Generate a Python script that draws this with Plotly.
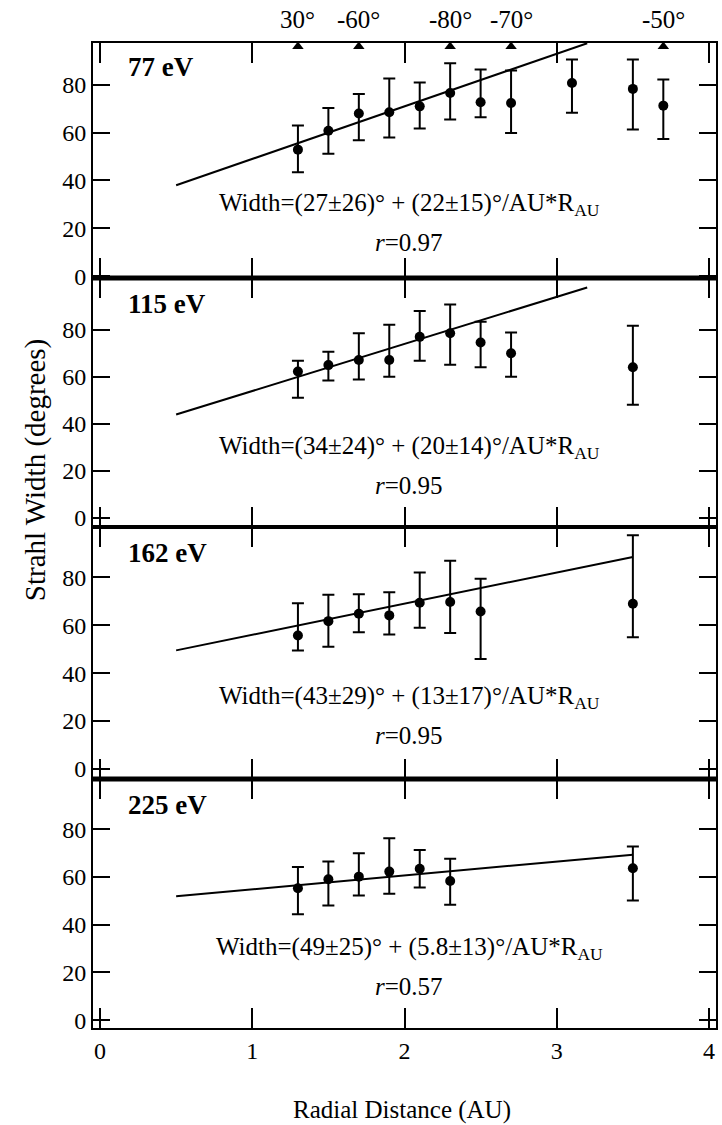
import plotly.graph_objects as go
from plotly.subplots import make_subplots

# ---------------- data ----------------
energies = ["77 eV", "115 eV", "162 eV", "225 eV"]

r_77 = [1.3, 1.5, 1.7, 1.9, 2.1, 2.3, 2.5, 2.7, 3.1, 3.5, 3.7]
w_77 = [52.9, 60.8, 68.0, 68.5, 71.0, 76.6, 72.7, 72.4, 80.8, 78.3, 71.3]
hi_77 = [63.0, 70.3, 76.2, 82.7, 81.0, 89.0, 86.4, 86.0, 90.6, 90.6, 82.2]
lo_77 = [43.4, 51.2, 56.8, 58.0, 61.7, 65.5, 66.4, 59.9, 68.3, 61.3, 57.3]

r_115 = [1.3, 1.5, 1.7, 1.9, 2.1, 2.3, 2.5, 2.7, 3.5]
w_115 = [62.3, 65.0, 67.2, 67.2, 77.0, 78.5, 74.6, 70.0, 64.1]
hi_115 = [66.9, 70.7, 78.5, 82.1, 88.0, 90.8, 83.4, 78.9, 81.7]
lo_115 = [51.1, 58.5, 58.9, 60.1, 66.9, 65.2, 64.1, 60.1, 48.2]

r_162 = [1.3, 1.5, 1.7, 1.9, 2.1, 2.3, 2.5, 3.5]
w_162 = [55.7, 61.7, 64.8, 64.1, 69.4, 69.7, 65.7, 69.0]
hi_162 = [69.2, 72.7, 72.9, 73.8, 82.0, 86.9, 79.4, 97.6]
lo_162 = [49.4, 51.0, 57.1, 56.1, 58.9, 56.8, 45.9, 55.0]

r_225 = [1.3, 1.5, 1.7, 1.9, 2.1, 2.3, 3.5]
w_225 = [55.2, 59.0, 60.1, 62.2, 63.4, 58.3, 63.6]
hi_225 = [64.1, 66.4, 69.9, 76.2, 71.3, 67.6, 72.7]
lo_225 = [44.3, 48.0, 52.2, 52.9, 55.5, 48.3, 50.1]

# fit-line end points
fit_x0 = [0.5, 0.5, 0.5, 0.5]
fit_x1 = [3.2, 3.2, 3.5, 3.5]
fit_y0 = [38.0, 44.0, 49.5, 51.9]
fit_y1 = [97.4, 98.0, 88.5, 69.3]

fit_text = [
    "Width=(27±26)° + (22±15)°/AU*R<sub>AU</sub>",
    "Width=(34±24)° + (20±14)°/AU*R<sub>AU</sub>",
    "Width=(43±29)° + (13±17)°/AU*R<sub>AU</sub>",
    "Width=(49±25)° + (5.8±13)°/AU*R<sub>AU</sub>",
]
r_text = ["0.97", "0.95", "0.95", "0.57"]

# latitude markers along top
lat_r = [1.3, 1.7, 2.3, 2.7, 3.7]
lat_labels = ["30°", "-60°", "-80°", "-70°", "-50°"]

x_ticks = [0, 1, 2, 3, 4]
y_ticks = [0, 20, 40, 60, 80]

# ---------------- layout constants ----------------
FONT = "'Liberation Serif', 'Times New Roman', Times, serif"
W, H = 722, 1125
ML, MR, MT, MB = 93, 4, 43, 97
domains = [[0.7614, 1.0], [0.5086, 0.7614], [0.2528, 0.5086], [0.0, 0.2528]]
yranges = [[-0.8, 97.5], [-3.8, 102], [-4.2, 101], [-3.3, 101]]
label_y = [87.4, 91.0, 90.2, 90.0]

series = [
    (r_77, w_77, hi_77, lo_77),
    (r_115, w_115, hi_115, lo_115),
    (r_162, w_162, hi_162, lo_162),
    (r_225, w_225, hi_225, lo_225),
]

fig = make_subplots(rows=4, cols=1, shared_xaxes=True, vertical_spacing=0)

for i, (rx, wy, hi, lo) in enumerate(series):
    row = i + 1
    fig.add_trace(go.Scatter(
        x=[fit_x0[i], fit_x1[i]], y=[fit_y0[i], fit_y1[i]],
        mode="lines", line=dict(color="black", width=2),
        showlegend=False, hoverinfo="skip"), row=row, col=1)
    fig.add_trace(go.Scatter(
        x=rx, y=wy, mode="markers",
        marker=dict(color="black", size=10),
        error_y=dict(type="data", symmetric=False,
                     array=[h - v for h, v in zip(hi, wy)],
                     arrayminus=[v - l for v, l in zip(wy, lo)],
                     color="black", thickness=2, width=6),
        showlegend=False), row=row, col=1)

fig.add_trace(go.Scatter(
    x=lat_r, y=[96.0] * len(lat_r), mode="markers",
    marker=dict(symbol="triangle-up", color="black", size=10),
    cliponaxis=False, showlegend=False, hoverinfo="skip"), row=1, col=1)

annotations = []
for lab, xv in zip(lat_labels, lat_r):
    annotations.append(dict(x=xv, xref="x", y=1.0234, yref="paper",
                            text=lab, showarrow=False, yanchor="middle",
                            font=dict(family=FONT, size=25, color="black")))

for i in range(4):
    xs = "x" if i == 0 else f"x{i+1}"
    ys = "y" if i == 0 else f"y{i+1}"
    annotations.append(dict(x=0.17, xref=xs, y=label_y[i], yref=ys,
                            text=f"<b>{energies[i]}</b>", showarrow=False,
                            xanchor="left", yanchor="middle",
                            font=dict(family=FONT, size=27, color="black")))
    annotations.append(dict(x=2.03, xref=xs, y=30, yref=ys,
                            text=fit_text[i], showarrow=False,
                            xanchor="center", yanchor="middle",
                            font=dict(family=FONT, size=25, color="black")))
    annotations.append(dict(x=2.03, xref=xs, y=14, yref=ys,
                            text=f"<i>r</i>={r_text[i]}", showarrow=False,
                            xanchor="center", yanchor="middle",
                            font=dict(family=FONT, size=25, color="black")))

annotations.append(dict(x=0.496, xref="paper", y=-0.083, yref="paper",
                        text="Radial Distance (AU)", showarrow=False,
                        xanchor="center", yanchor="middle",
                        font=dict(family=FONT, size=25, color="black")))
annotations.append(dict(x=-0.0912, xref="paper", y=0.5665, yref="paper",
                        text="Strahl Width (degrees)", showarrow=False,
                        textangle=-90, xanchor="center", yanchor="middle",
                        font=dict(family=FONT, size=29, color="black")))

layout = dict(
    width=W, height=H,
    margin=dict(l=ML, r=MR, t=MT, b=MB),
    paper_bgcolor="white", plot_bgcolor="white",
    annotations=annotations,
    shapes=[
        dict(type="line", xref="paper", yref="paper", x0=0, x1=1,
             y0=domains[0][0], y1=domains[0][0], line=dict(color="black", width=5)),
        dict(type="line", xref="paper", yref="paper", x0=0, x1=1,
             y0=domains[1][0], y1=domains[1][0], line=dict(color="black", width=2.5)),
        dict(type="line", xref="paper", yref="paper", x0=0, x1=1,
             y0=domains[2][0], y1=domains[2][0], line=dict(color="black", width=5)),
    ],
)

for i in range(4):
    xk = "xaxis" if i == 0 else f"xaxis{i+1}"
    yk = "yaxis" if i == 0 else f"yaxis{i+1}"
    layout[xk] = dict(range=[-0.046, 4.046], tickvals=x_ticks,
                      ticks="inside", ticklen=20, tickwidth=2, tickcolor="black",
                      showline=True, linewidth=2, linecolor="black",
                      mirror="allticks", showgrid=False, zeroline=False,
                      showticklabels=(i == 3),
                      tickfont=dict(family=FONT, size=24, color="black"))
    layout[yk] = dict(range=yranges[i], domain=domains[i], tickvals=y_ticks,
                      ticks="inside", ticklen=17, tickwidth=2, tickcolor="black",
                      showline=True, linewidth=2, linecolor="black",
                      mirror="allticks", showgrid=False, zeroline=False,
                      tickfont=dict(family=FONT, size=24, color="black"))

fig.update_layout(**layout)
fig.write_html("out.html")
